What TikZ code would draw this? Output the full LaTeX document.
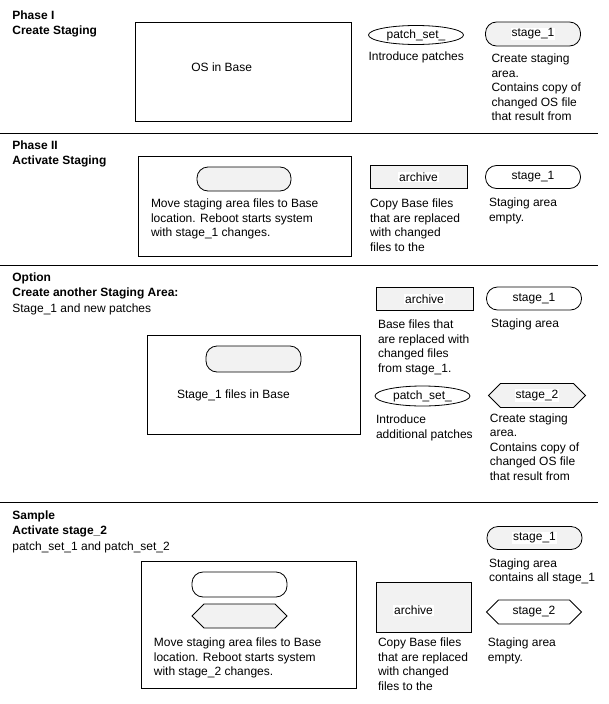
\documentclass[tikz,border=0pt]{standalone}
\usepackage{fontspec}
\setmainfont{Liberation Sans}
\usetikzlibrary{positioning}
\usetikzlibrary{shapes.geometric,shapes.symbols}
\definecolor{paleshade}{HTML}{F2F2F2}
\tikzset{basebox/.style={rectangle,draw=black,fill=white,
inner sep=0pt}}
\tikzset{stagecap/.style={rectangle,rounded corners=11pt,draw=black,fill=white,
inner sep=0pt,minimum height=23pt, minimum width=95pt}}
\tikzset{stagehex/.style={signal,signal to=east and west,draw=black,fill=white,
inner sep=0pt,minimum height=24pt, minimum width=96pt}}
\tikzset{patchoval/.style={ellipse,draw=black,fill=white,
inner sep=0pt,minimum height=19pt, minimum width=95pt}}
\tikzset{archbox/.style={rectangle,draw=black,fill=paleshade,
inner sep=0pt,minimum height=23pt, minimum width=97pt}}
\tikzset{tag/.style={fill=white,inner sep=1pt}}
\tikzset{note/.style={anchor=north west,inner sep=0pt,align=left}}
\tikzset{head/.style={anchor=north west,inner sep=0pt,align=left,
font=\fontsize{12}{15.5}\selectfont\bfseries}}

\begin{document}
\begin{tikzpicture}[x=1pt,y=-1pt,line width=0.8pt,font=\fontsize{12}{14.6}\selectfont]
    \useasboundingbox (0,0) rectangle (608,704);

        % Phase I
        \node[head] (headA) at (12,10) {Phase I\\Create Staging};
        \node[basebox,minimum width=216pt,minimum height=99pt] (baseA) at (243,71.5) {};
        \node[note] (baseAtxt) at (191,62) {OS in Base};
        \node[patchoval] (patchA) at (416,35) {};
        \node[tag] (patchAtag) at (patchA) {patch\_set\_};
        \node[note] (patchAtxt) at ([yshift=-7pt]patchA.south -| patchA.west) {Introduce patches};
        \node[stagecap,fill=paleshade,minimum height=24pt] (stageA) at (533,34) {};
        \node[tag] (stageAtag) at (stageA) {stage\_1};
        \node[note] (stageAtxt) at ([yshift=-7pt,xshift=6pt]stageA.south west) {Create staging\\area.\\Contains copy of\\changed OS file\\that result from};

        \draw (0,133) -- (598,133);

        % Phase II
        \node[head] (headB) at (12,140) {Phase II\\Activate Staging};
        \node[basebox,minimum width=213pt,minimum height=100pt] (baseB) at (244.5,206) {};
        \node[stagecap,fill=paleshade,minimum height=24pt,minimum width=94pt] (innerB) at (244,179) {};
        \node[note] (baseBtxt) at ([yshift=-7pt,xshift=-46pt]innerB.south west) {Move staging area files to Base\\location. Reboot starts system\\with stage\_1 changes.};
        \node[archbox] (archB) at (418.5,177) {};
        \node[tag] (archBtag) at (archB) {archive};
        \node[note] (archBtxt) at ([yshift=-9.5pt]archB.south west) {Copy Base files\\that are replaced\\with changed\\files to the};
        \node[stagecap] (stageB) at (533,177) {};
        \node[tag] (stageBtag) at (stageB) {stage\_1};
        \node[note] (stageBtxt) at ([yshift=-8.5pt,xshift=3.5pt]stageB.south west) {Staging area\\empty.};

        \draw (0,265) -- (598,265);

        % Option
        \node[head] (headC) at (12,272) {Option\\Create another Staging Area:};
        \node[note] (headCtxt) at (12,303) {Stage\_1 and new patches};
        \node[archbox] (archC) at (424.5,299) {};
        \node[tag] (archCtag) at (archC) {archive};
        \node[note] (archCtxt) at ([yshift=-8.5pt,xshift=2pt]archC.south west) {Base files that\\are replaced with\\changed files\\from stage\_1.};
        \node[stagecap] (stageC) at (534,298.5) {};
        \node[tag] (stageCtag) at (stageC) {stage\_1};
        \node[note] (stageCtxt) at ([yshift=-8pt,xshift=4.5pt]stageC.south west) {Staging area};
        \node[basebox,minimum width=213pt,minimum height=99pt] (baseC) at (253.5,384.5) {};
        \node[stagecap,fill=paleshade,minimum height=26pt] (innerC) at (253.5,359) {};
        \node[note] (baseCtxt) at ([yshift=-17pt,xshift=-29pt]innerC.south west) {Stage\_1 files in Base};
        \node[patchoval,minimum height=20pt] (patchC) at (422.5,396) {};
        \node[tag] (patchCtag) at (patchC) {patch\_set\_};
        \node[note] (patchCtxt) at ([yshift=-8pt,xshift=1pt]patchC.south -| patchC.west) {Introduce\\additional patches};
        \node[stagehex,fill=paleshade,minimum height=24pt,minimum width=97pt] (stageD) at (537,395.5) {};
        \node[tag] (stageDtag) at (stageD) {stage\_2};
        \node[note] (stageDtxt) at ([yshift=-5pt,xshift=1.5pt]stageD.south -| stageD.west) {Create staging\\area.\\Contains copy of\\changed OS file\\that result from};

        \draw (0,502) -- (598,502);

        % Sample
        \node[head] (headE) at (12,510) {Sample\\Activate stage\_2};
        \node[note] (headEtxt) at (12,541) {patch\_set\_1 and patch\_set\_2};
        \node[stagecap,fill=paleshade] (stageE) at (534.5,538) {};
        \node[tag] (stageEtag) at (stageE) {stage\_1};
        \node[note] (stageEtxt) at ([yshift=-8pt,xshift=2pt]stageE.south west) {Staging area\\contains all stage\_1};
        \node[basebox,minimum width=215pt,minimum height=127pt] (baseE) at (248.5,624.5) {};
        \node[stagecap,minimum height=25pt] (innerE) at (239.5,584.5) {};
        \node[stagehex,fill=paleshade,minimum width=95pt] (innerF) at (239.5,616) {};
        \node[note] (baseEtxt) at ([yshift=-9pt,xshift=-38pt]innerF.south -| innerF.west) {Move staging area files to Base\\location. Reboot starts system\\with stage\_2 changes.};
        \node[archbox,minimum width=95pt,minimum height=50pt] (archE) at (423.5,607) {};
        \node[tag] (archEtag) at ([xshift=-10pt,yshift=-3.5pt]archE) {archive};
        \node[note] (archEtxt) at ([yshift=-5pt,xshift=2pt]archE.south west) {Copy Base files\\that are replaced\\with changed\\files to the};
        \node[stagehex,minimum width=95pt] (stageF) at (534,612) {};
        \node[tag] (stageFtag) at (stageF) {stage\_2};
        \node[note] (stageFtxt) at ([yshift=-13pt,xshift=1.5pt]stageF.south -| stageF.west) {Staging area\\empty.};

    \end{tikzpicture}
\end{document}
